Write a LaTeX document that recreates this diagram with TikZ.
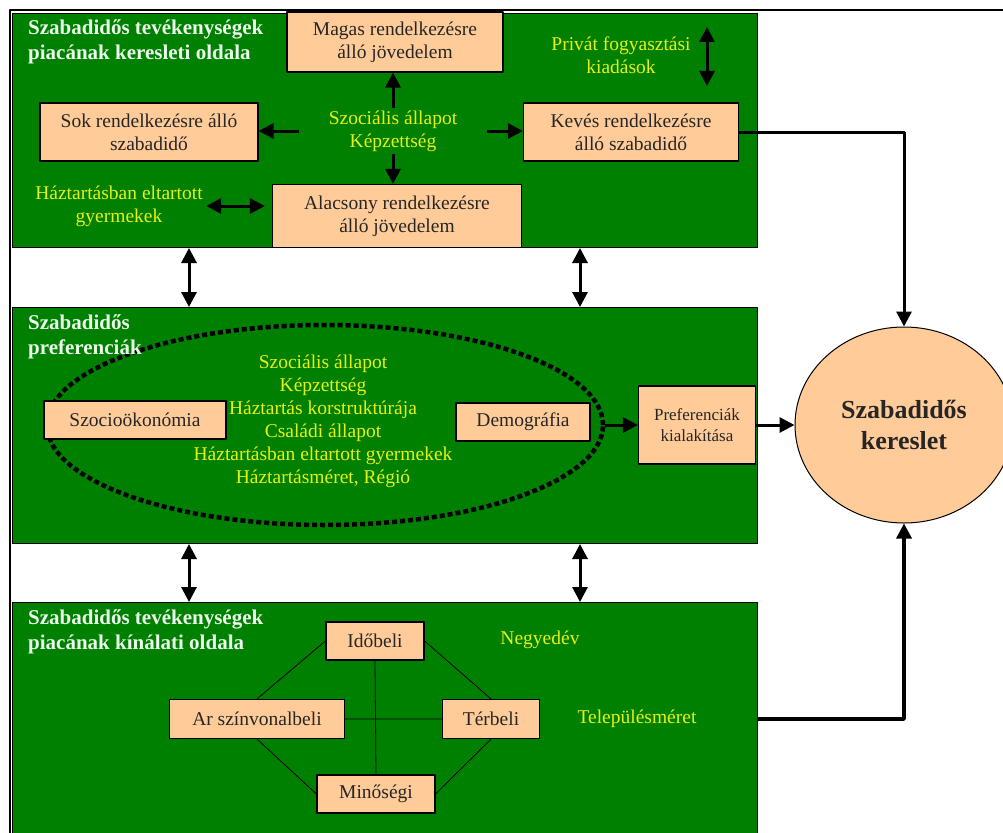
\documentclass[tikz,border=0pt]{standalone}
\usepackage{fontspec}
\setmainfont{Liberation Serif}
\usetikzlibrary{arrows.meta,shapes.geometric}
\definecolor{zold}{RGB}{0,128,0}
\definecolor{barack}{RGB}{255,204,153}
\definecolor{sarga}{RGB}{230,240,20}
\definecolor{feher}{RGB}{235,250,235}
\begin{document}
\begin{tikzpicture}[x=1pt, y=-1pt, line join=round, font=\fontsize{19.5}{23}\selectfont,
	panel/.style={draw=black, fill=zold, line width=1pt, anchor=north west, inner sep=0pt},
	doboz/.style={draw=black, fill=barack, line width=1.2pt, align=center, inner sep=0pt, text=black!85},
	cim/.style={anchor=north west, align=left, inner sep=0pt, text=feher, font=\fontsize{21}{25}\selectfont\bfseries},
	sargaszoveg/.style={text=sarga, align=center},
	nyil/.style={line width=3pt, -{Triangle[length=15pt,width=15pt]}},
	ketnyil/.style={line width=3pt, {Triangle[length=15pt,width=15pt]}-{Triangle[length=15pt,width=15pt]}},
	vonal/.style={line width=0.8pt}]
	\useasboundingbox (0,0) rectangle (1003,832);
	\draw[line width=1.5pt] (10,840) -- (10,10) -- (1010,10);
	% a harom zold panel
	\node[panel, minimum width=745, minimum height=234] (p1) at (12,13) {};
	\node[panel, minimum width=745, minimum height=236] (p2) at (12,307) {};
	\node[panel, minimum width=745, minimum height=240] (p3) at (12,602) {};
	\foreach \x in {189,580} {
		\draw[ketnyil] (p1.south -| \x,0) -- (p2.north -| \x,0);
		\draw[ketnyil] (p2.south -| \x,0) -- (p3.north -| \x,0);
	}
	% keresleti oldal
	\node[cim] (t1) at (28,19) {Szabadidős tevékenységek\\piacának keresleti oldala};
	\node[doboz, minimum width=216, minimum height=60] (magas) at (395,42) {Magas rendelkezésre\\álló jövedelem};
	\node[doboz, minimum width=218, minimum height=58] (sok) at (149,132) {Sok rendelkezésre álló\\szabadidő};
	\node[doboz, minimum width=215, minimum height=58] (keves) at (631,132) {Kevés rendelkezésre\\álló szabadidő};
	\node[doboz, minimum width=249, minimum height=63] (alacsony) at (397,216) {Alacsony rendelkezésre\\álló jövedelem};
	\node[sargaszoveg, inner xsep=30pt, inner ysep=2pt] (szoc) at (393,131) {Szociális állapot\\Képzettség};
	\node[sargaszoveg] (gyerm) at (119,206) {Háztartásban eltartott\\gyermekek};
	\node[sargaszoveg] (privat) at (621,55) {Privát fogyasztási\\kiadások};
	\coordinate (pa) at (707,27);
	\coordinate (pb) at (707,86);
	\draw[nyil] (szoc.north) -- (szoc.north |- magas.south);
	\draw[nyil] (szoc.west) -- (szoc.west -| sok.east);
	\draw[nyil] (szoc.east) -- (szoc.east -| keves.west);
	\draw[nyil] (szoc.south) -- (szoc.south |- alacsony.north);
	\draw[ketnyil, shorten >=7pt] (gyerm.east) -- (gyerm.east -| alacsony.west);
	\draw[ketnyil] (pa) -- (pb);
	% preferenciak
	\node[draw=black, ellipse, line width=4.5pt, dash pattern=on 5pt off 3pt, minimum width=556, minimum height=200, inner sep=0pt] (halmaz) at (325,425) {};
	\node[cim] (t2) at (28,314) {Szabadidős\\preferenciák};
	\node[sargaszoveg] (jellemzok) at (323,421) {Szociális állapot\\Képzettség\\Háztartás korstruktúrája\\Családi állapot\\Háztartásban eltartott gyermekek\\Háztartásméret, Régió};
	\node[doboz, minimum width=182, minimum height=38] (szocio) at (135,420) {Szocioökonómia};
	\node[doboz, minimum width=134, minimum height=38] (demog) at (523,422) {Demográfia};
	\node[doboz, minimum width=117, minimum height=78, font=\fontsize{17}{21}\selectfont] (pref) at (697,425) {Preferenciák\\kialakítása};
	\node[draw=black, fill=barack, ellipse, minimum width=218, minimum height=196, line width=1pt, align=center, font=\fontsize{26}{31}\selectfont\bfseries, text=black!85] (kereslet) at (904,425) {Szabadidős\\kereslet};
	\draw[nyil] (halmaz.east) -- (pref.west);
	\draw[nyil] (pref.east) -- (kereslet.west);
	\draw[nyil] (keves.east) -| (kereslet.north);
	% kinalati oldal
	\node[cim] (t3) at (28,609) {Szabadidős tevékenységek\\piacának kínálati oldala};
	\node[doboz, minimum width=98, minimum height=38] (idobeli) at (375,641) {Időbeli};
	\node[doboz, minimum width=175, minimum height=39] (ar) at (257,719) {Ar színvonalbeli};
	\node[doboz, minimum width=97, minimum height=39] (terbeli) at (491,719) {Térbeli};
	\node[doboz, minimum width=118, minimum height=38] (minoseg) at (376,794) {Minőségi};
	\node[sargaszoveg] (negyedev) at (540,640) {Negyedév};
	\node[sargaszoveg] (telepules) at (637,719) {Településméret};
	\draw[vonal] (idobeli.west) -- (ar.north) (idobeli.east) -- (terbeli.north)
		(ar.south) -- (minoseg.west) (minoseg.east) -- (terbeli.south)
		(idobeli.south) -- (minoseg.north) (ar.east) -- (terbeli.west);
	\draw[nyil, line width=3.5pt] (p3.east |- ar) -| (kereslet.south);
\end{tikzpicture}
\end{document}
